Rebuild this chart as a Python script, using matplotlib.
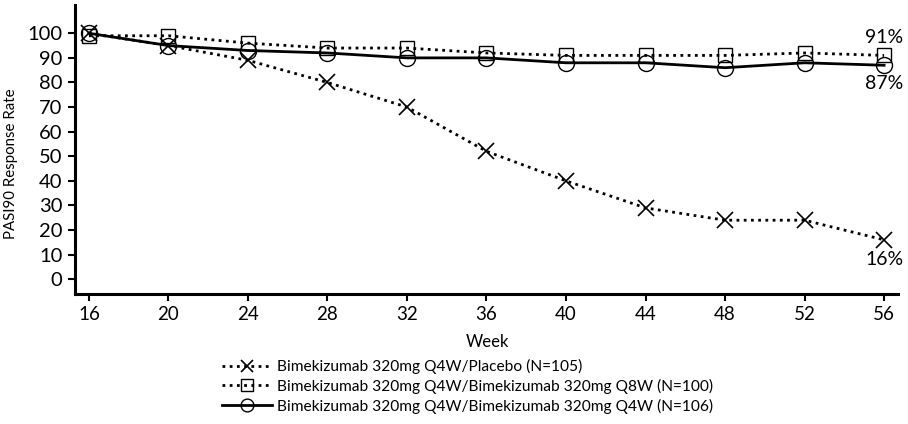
import matplotlib
matplotlib.use("Agg")
import matplotlib.pyplot as plt

plt.rcParams['font.family'] = ['Lato', 'DejaVu Sans']

weeks = [16, 20, 24, 28, 32, 36, 40, 44, 48, 52, 56]
placebo = [100, 95, 89, 80, 70, 52, 40, 29, 24, 24, 16]
q8w = [99, 99, 96, 94, 94, 92, 91, 91, 91, 92, 91]
q4w = [100, 95, 93, 92, 90, 90, 88, 88, 86, 88, 87]
labels = ["Bimekizumab 320mg Q4W/Placebo (N=105)",
          "Bimekizumab 320mg Q4W/Bimekizumab 320mg Q8W (N=100)",
          "Bimekizumab 320mg Q4W/Bimekizumab 320mg Q4W (N=106)"]
end_labels = ["16%", "91%", "87%"]
yticks = list(range(0, 101, 10))

fig = plt.figure(figsize=(9.08, 4.24), dpi=100)
ax = fig.add_axes([75/908, 1-294/424, (898-75)/908, (294-5)/424])

dot = (0, (1, 1.6))
l1, = ax.plot(weeks, placebo, color='black', lw=2, ls=dot, marker='x', ms=11, mew=1.2, label=labels[0])
l2, = ax.plot(weeks, q8w, color='black', lw=2, ls=dot, marker='s', ms=10.5, mew=1.0, mfc='none', label=labels[1])
l3, = ax.plot(weeks, q4w, color='black', lw=2, ls='-', marker='o', ms=11.5, mew=1.0, mfc='none', label=labels[2])

ax.annotate(end_labels[0], (weeks[-1], placebo[-1]), xytext=(0, -8), textcoords='offset points',
            ha='center', va='top', fontsize=14)
ax.annotate(end_labels[1], (weeks[-1], q8w[-1]), xytext=(0, 7), textcoords='offset points',
            ha='center', va='bottom', fontsize=14)
ax.annotate(end_labels[2], (weeks[-1], q4w[-1]), xytext=(0, -7), textcoords='offset points',
            ha='center', va='top', fontsize=14)

ax.set_xlim(15.3, 56.7)
ax.set_ylim(-6, 111.5)
ax.set_xticks(weeks)
ax.set_yticks(yticks)
ax.tick_params(axis='y', labelsize=14.5, width=1.5, length=5, direction='out', pad=4)
ax.tick_params(axis='x', labelsize=13.5, width=1.5, length=5, direction='out', pad=4)
for s in ['top', 'right']:
    ax.spines[s].set_visible(False)
for s in ['left', 'bottom']:
    ax.spines[s].set_linewidth(2.2)

fig.text(487/908, 1-342/424, 'Week', ha='center', va='center', fontsize=12)
fig.text(11/908, 1-164/424, 'PASI90 Response Rate', rotation=90, ha='center', va='center', fontsize=10.8)

fig.legend(handles=[l1, l2, l3], loc='upper left', bbox_to_anchor=(222/908, 1-359/424),
           frameon=False, fontsize=11.2, handlelength=3.2, handletextpad=0.35, labelspacing=0.3,
           markerscale=0.8, borderaxespad=0, borderpad=0)

fig.savefig('out.png', dpi=100)
